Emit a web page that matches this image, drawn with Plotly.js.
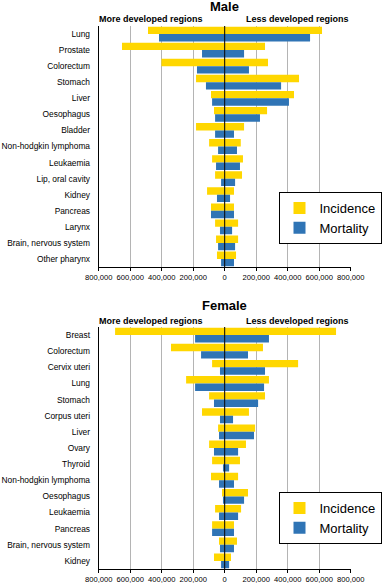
<!DOCTYPE html>
<html>
<head>
<meta charset="utf-8">
<script src="https://cdn.plot.ly/plotly-3.0.1.min.js"></script>
<style>html,body{margin:0;padding:0;background:#fff;}#chart{width:382px;height:585px;}</style>
</head>
<body>
<div id="chart"></div>
<script>
// ---- Data ----
const maleCats = ["Lung", "Prostate", "Colorectum", "Stomach", "Liver", "Oesophagus", "Bladder",
  "Non-hodgkin lymphoma", "Leukaemia", "Lip, oral cavity", "Kidney", "Pancreas", "Larynx",
  "Brain, nervous system", "Other pharynx"];
const maleIncMore  = [487000, 652000, 402000, 182000, 87000, 68000, 182000, 99000, 80000, 61000, 112000, 87000, 61000, 55000, 49000];
const maleIncLess  = [618000, 256000, 275000, 472000, 440000, 269000, 123000, 102000, 116000, 110000, 59000, 59000, 85000, 85000, 72000];
const maleMortMore = [417000, 144000, 176000, 119000, 80000, 61000, 61000, 42000, 55000, 23000, 49000, 87000, 30000, 42000, 23000];
const maleMortLess = [542000, 123000, 154000, 358000, 408000, 224000, 59000, 78000, 97000, 66000, 34000, 59000, 47000, 66000, 59000];

const femaleCats = ["Breast", "Colorectum", "Cervix uteri", "Lung", "Stomach", "Corpus uteri", "Liver",
  "Ovary", "Thyroid", "Non-hodgkin lymphoma", "Oesophagus", "Leukaemia", "Pancreas",
  "Brain, nervous system", "Kidney"];
const femaleIncMore  = [696000, 341000, 80000, 245000, 99000, 144000, 42000, 99000, 80000, 87000, 17000, 61000, 80000, 36000, 68000];
const femaleIncLess  = [707000, 243000, 466000, 281000, 256000, 154000, 193000, 135000, 97000, 85000, 148000, 104000, 59000, 78000, 40000];
const femaleMortMore = [188000, 150000, 30000, 188000, 68000, 30000, 36000, 68000, 11000, 36000, 11000, 36000, 80000, 30000, 23000];
const femaleMortLess = [281000, 148000, 256000, 250000, 212000, 53000, 186000, 85000, 28000, 59000, 123000, 85000, 59000, 59000, 28000];

const tickVals = [-800000, -600000, -400000, -200000, 0, 200000, 400000, 600000, 800000];
const tickText = ["800,000", "600,000", "400,000", "200,000", "0", "200,000", "400,000", "600,000", "800,000"];

const seriesNames = ["Incidence", "Mortality"];
const panelTitles = ["Male", "Female"];
const sideLabels = ["More developed regions", "Less developed regions"];

// ---- Style ----
const YELLOW = "#FFD700";
const BLUE = "#2F74B5";
const FONT = "Liberation Sans, Arial, Helvetica, sans-serif";
const W = 382, H = 585;
const xDom = [98.7 / W, 350.7 / W];
const yDomMale = [1 - 267 / H, 1 - 26 / H];
const yDomFemale = [1 - 569 / H, 1 - 327 / H];
const BW = 0.46;

function panelTraces(cats, incMore, incLess, mortMore, mortLess, xa, ya, legendId) {
  const neg = a => a.map(v => -v);
  const mk = (name, x, color, offset, show) => ({
    type: "bar", orientation: "h", name: name, x: x, y: cats,
    xaxis: xa, yaxis: ya, width: BW, offset: offset,
    marker: {color: color, line: {width: 0}},
    legend: legendId, legendgroup: name + legendId, showlegend: show,
    hoverinfo: "x+y+name"
  });
  return [
    mk(seriesNames[0], neg(incMore), YELLOW, -BW, true),
    mk(seriesNames[0], incLess, YELLOW, -BW, false),
    mk(seriesNames[1], neg(mortMore), BLUE, 0, true),
    mk(seriesNames[1], mortLess, BLUE, 0, false)
  ];
}

const data = [].concat(
  panelTraces(maleCats, maleIncMore, maleIncLess, maleMortMore, maleMortLess, "x", "y", "legend"),
  panelTraces(femaleCats, femaleIncMore, femaleIncLess, femaleMortMore, femaleMortLess, "x2", "y2", "legend2")
);

function xAxis(anchor) {
  return {
    domain: xDom, anchor: anchor, range: [-800000, 800000],
    tickmode: "array", tickvals: tickVals, ticktext: tickText, tickangle: 0,
    ticks: "outside", ticklen: 3, tickcolor: "#000", tickwidth: 1,
    showline: true, linecolor: "#000", linewidth: 1,
    showgrid: true, gridcolor: "#B4B4B4", gridwidth: 1,
    zeroline: false, fixedrange: true, automargin: false,
    tickfont: {family: FONT, size: 7.6, color: "#000"}
  };
}
function yAxis(anchor, dom, n) {
  return {
    domain: dom, anchor: anchor, type: "category",
    range: [n - 0.5, -0.5],
    ticks: "", ticklabelstandoff: 6,
    showline: true, linecolor: "#000", linewidth: 1,
    showgrid: false, zeroline: false, fixedrange: true, automargin: false,
    tickfont: {family: FONT, size: 8.4, color: "#000"}
  };
}

const titleY = [1 - 6.5 / H, 1 - 305.5 / H];
const subY = [1 - 19.5 / H, 1 - 320.5 / H];
const annotations = [];
[["x", "y"], ["x2", "y2"]].forEach((ax, i) => {
  annotations.push({
    text: panelTitles[i], xref: ax[0] + " domain", x: 0.5, yref: "paper", y: titleY[i],
    xanchor: "center", yanchor: "middle", showarrow: false,
    font: {family: FONT, size: 13, color: "#000", weight: "bold"}
  });
  annotations.push({
    text: "<b>" + sideLabels[0] + "</b>", xref: ax[0] + " domain", x: -0.006, yref: "paper", y: subY[i],
    xanchor: "left", yanchor: "middle", showarrow: false,
    font: {family: FONT, size: 9, color: "#000"}
  });
  annotations.push({
    text: "<b>" + sideLabels[1] + "</b>", xref: ax[0] + " domain", x: 1, yref: "paper", y: subY[i],
    xanchor: "right", yanchor: "middle", showarrow: false,
    font: {family: FONT, size: 9, color: "#000"}
  });
});

const zeroShapes = [["x", "y"], ["x2", "y2"]].map(ax => ({
  type: "line", xref: ax[0], x0: 0, x1: 0, yref: ax[1] + " domain", y0: 0, y1: 1,
  line: {color: "#000", width: 1}, layer: "above"
}));

const legendBase = {
  xref: "paper", yref: "paper", x: 381.5 / W, xanchor: "right", yanchor: "top",
  bgcolor: "#fff", bordercolor: "#000", borderwidth: 1,
  font: {family: FONT, size: 13, color: "#000"}, traceorder: "normal",
  tracegroupgap: 0, itemwidth: 30
};

const layout = {
  width: W, height: H, margin: {l: 0, r: 0, t: 0, b: 0, pad: 0, autoexpand: false},
  paper_bgcolor: "#fff", plot_bgcolor: "#fff",
  font: {family: FONT, color: "#000"},
  barmode: "overlay",
  xaxis: xAxis("y"), yaxis: yAxis("x", yDomMale, maleCats.length),
  xaxis2: xAxis("y2"), yaxis2: yAxis("x2", yDomFemale, femaleCats.length),
  legend: Object.assign({}, legendBase, {y: 1 - 192 / H}),
  legend2: Object.assign({}, legendBase, {y: 1 - 492 / H}),
  annotations: annotations, shapes: zeroShapes, showlegend: true
};

Plotly.newPlot("chart", data, layout, {displayModeBar: false, staticPlot: true});
</script>
</body>
</html>
